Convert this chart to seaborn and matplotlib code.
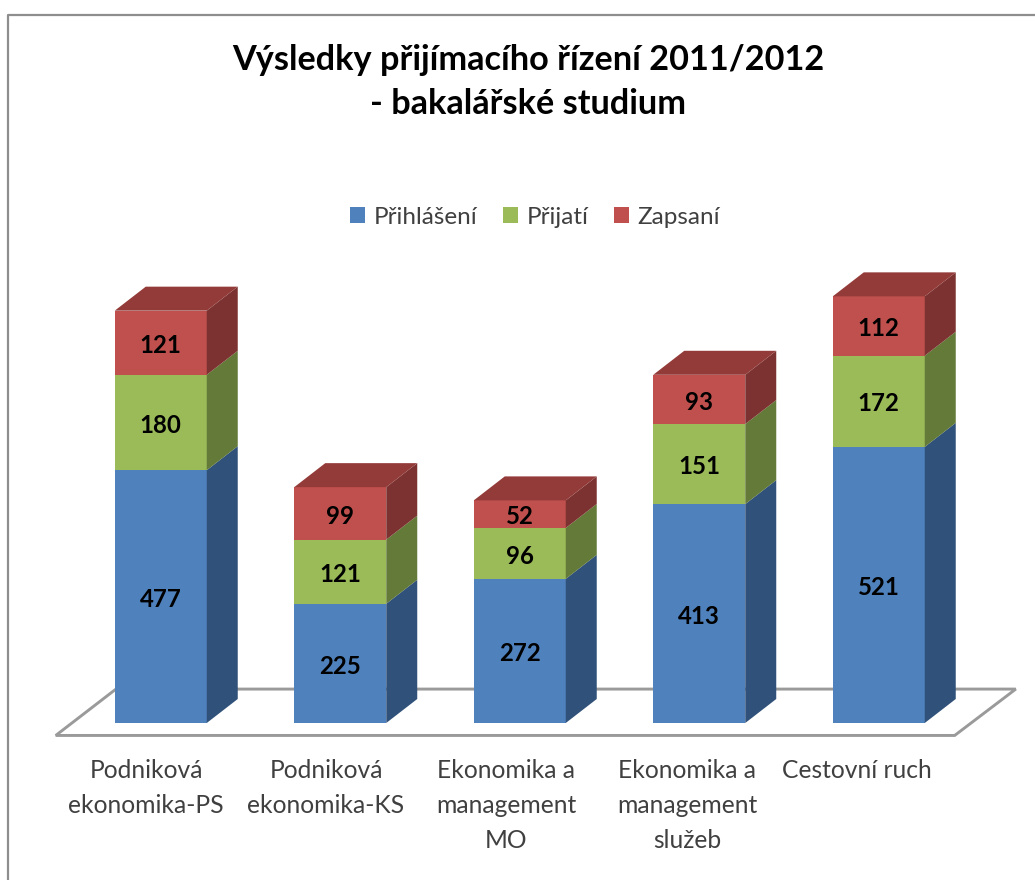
import numpy as np
import matplotlib
matplotlib.use("Agg")
import matplotlib.pyplot as plt
from matplotlib.lines import Line2D
from matplotlib.patches import Patch
import seaborn as sns

# values
obory = ["Podniková\nekonomika-PS", "Podniková\nekonomika-KS", "Ekonomika a\nmanagement\nMO",
         "Ekonomika a\nmanagement\nslužeb", "Cestovní ruch"]
prihlaseni = [477, 225, 272, 413, 521]
prijati = [180, 121, 96, 151, 172]
zapsani = [121, 99, 52, 93, 112]
serie = ["Přihlášení", "Přijatí", "Zapsaní"]

barvy = ["#4F81BD", "#9BBB59", "#C0504D"]
boky = ["#30517A", "#637A38", "#7C3230"]
vrsek = "#933B39"
SEDA = "#404040"
LINKA = "#9A9A9A"

W, H = 1035, 880
sns.set_style("white")
plt.rcParams["font.family"] = ["Lato", "DejaVu Sans"]

fig = plt.figure(figsize=(W / 100, H / 100), dpi=100)
# axes placed so that 0 sits on the pixel row of the bar bases
ax = fig.add_axes([71 / W, (H - 723) / H, 897.5 / W, 450 / H])
ax.set_xlim(-0.5, 4.5)
ax.set_ylim(0, 450 / 0.53)
ax.axis("off")

SIRKA = 0.5125
DX, DY = 31 / 179.5, 24 / 0.53

# floor of the 3D box
podlaha_x = [-0.585, 4.423, 4.423 + 2 * DX - 0.005, -0.585 + 2 * DX - 0.01]
podlaha_y = [-23.5, -23.5, 64, 64]
ax.fill(podlaha_x, podlaha_y, facecolor="white", edgecolor=LINKA, linewidth=2.1,
        zorder=0.5, clip_on=False, joinstyle="miter")

dole = np.zeros(len(obory))
pozice = np.arange(len(obory))
for hodnoty, barva, bok, jmeno in zip([prihlaseni, prijati, zapsani], barvy, boky, serie):
    hodnoty = np.array(hodnoty)
    sns.barplot(x=pozice, y=hodnoty, bottom=dole, color=barva, saturation=1, width=SIRKA,
                native_scale=True, ax=ax, linewidth=0, zorder=2, clip_on=False)
    for x, d, v in zip(pozice, dole, hodnoty):
        r = x + SIRKA / 2
        ax.fill([r, r + DX, r + DX, r], [d, d + DY, d + v + DY, d + v], color=bok,
                linewidth=0, zorder=2, clip_on=False)
        # numbers sit a touch under the segment centre
        ax.text(x, d + v / 2 - 5, str(v), ha="center", va="center", fontsize=17.3,
                fontweight="bold", color="black", zorder=3)
    dole = dole + hodnoty

# top faces of the stacks
for x, t in zip(pozice, dole):
    l, r = x - SIRKA / 2, x + SIRKA / 2
    ax.fill([l, r, r + DX, l + DX], [t, t, t + DY, t + DY], color=vrsek, linewidth=0,
            zorder=2, clip_on=False)

ax.set_xlim(-0.5, 4.5)
ax.set_ylim(0, 450 / 0.53)

# category labels sit left of the bars, as in the original
stredy = [146, 326, 506, 687, 857]
for txt, px in zip(obory, stredy):
    fig.text(px / W, 1 - 759 / H, txt, ha="center", va="top", fontsize=17.7, color=SEDA, linespacing=1.62)

fig.text(528 / W, 1 - 82 / H, "Výsledky přijímacího řízení 2011/2012\n- bakalářské studium", ha="center",
         va="center", fontsize=24.7, fontweight="bold", color="black", linespacing=1.44)

uchyty = [Patch(facecolor=c, edgecolor="none", label=s) for c, s in zip(barvy, serie)]
fig.legend(handles=uchyty, loc="center", bbox_to_anchor=(535 / W, 1 - 217 / H), ncol=3, frameon=False,
           fontsize=17.5, labelcolor=SEDA, handlelength=0.62, handleheight=0.62, handletextpad=0.35,
           columnspacing=1.05)

# chart frame, only top and left are visible in the crop
fig.add_artist(Line2D([7.5 / W, 7.5 / W, 1], [0, 1 - 15 / H, 1 - 15 / H], color="#8E8E8E", linewidth=1.6))

fig.savefig("out.png", dpi=100, facecolor="white")
